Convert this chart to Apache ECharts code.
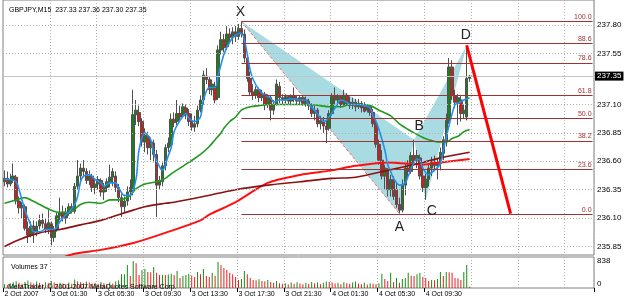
<!DOCTYPE html>
<html><head><meta charset="utf-8">
<script src="https://cdn.jsdelivr.net/npm/echarts@6/dist/echarts.min.js"></script>
<style>html,body{margin:0;padding:0;background:#fff}#c{width:625px;height:305px}</style>
</head><body><div id="c"></div>
<script>
const chartTitle = 'GBPJPY,M15  237.33 237.36 237.30 237.35';
const volumeTitle = 'Volumes 37';
const copyright = 'MetaTrader, \u00a9 2001-2007 MetaQuotes Software Corp.';
const timeLabels = ['2 Oct 2007','3 Oct 01:30','3 Oct 05:30','3 Oct 09:30','3 Oct 13:30','3 Oct 17:30','3 Oct 21:30','4 Oct 01:30','4 Oct 05:30','4 Oct 09:30'];
const barsPerLabel = 16;
const slotCount = 202;
const priceTicks = [237.80,237.55,237.10,236.85,236.60,236.35,236.10,235.85];
const lastPrice = 237.35;
const volumeTicks = [838, 0];

// [open, close, low, high]
const candles = [
[236.42,236.45,236.38,236.52],[236.45,236.40,236.37,236.51],[236.40,236.44,236.38,236.49],[236.44,236.47,236.41,236.58],
[236.46,236.25,236.22,236.48],[236.25,236.19,236.14,236.29],[236.19,236.21,236.10,236.24],[236.20,236.01,235.99,236.22],
[236.01,235.95,235.88,236.07],[235.95,236.03,235.93,236.07],[236.03,235.97,235.88,236.08],[235.98,236.03,235.94,236.07],
[236.03,236.08,236.00,236.13],[236.08,236.05,236.01,236.14],[236.05,236.00,235.97,236.10],[236.00,236.06,235.96,236.17],
[236.05,235.93,235.86,236.07],[235.93,236.00,235.89,236.03],[236.00,236.12,235.98,236.15],[236.12,236.15,236.08,236.28],
[236.15,236.10,236.07,236.21],[236.10,236.14,236.05,236.19],[236.14,236.20,236.12,236.23],[236.20,236.17,236.14,236.23],
[236.16,236.38,236.14,236.41],[236.38,236.47,236.35,236.61],[236.47,236.54,236.43,236.58],[236.54,236.51,236.46,236.61],
[236.51,236.43,236.40,236.54],[236.43,236.47,236.39,236.52],[236.47,236.37,236.33,236.49],[236.37,236.40,236.31,236.44],
[236.40,236.44,236.35,236.47],[236.43,236.33,236.29,236.45],[236.33,236.37,236.26,236.41],[236.37,236.42,236.33,236.45],
[236.42,236.46,236.37,236.57],[236.46,236.51,236.38,236.54],[236.47,236.37,236.33,236.51],[236.37,236.28,236.24,236.40],
[236.28,236.20,236.11,236.31],[236.20,236.25,236.15,236.29],[236.25,236.33,236.21,236.38],[236.33,236.37,236.26,236.44],
[236.35,237.01,236.30,237.23],[237.01,237.05,236.92,237.14],[237.03,236.95,236.91,237.09],[236.95,236.77,236.73,236.98],
[236.77,236.83,236.68,236.89],[236.82,236.72,236.66,236.86],[236.72,236.77,236.61,236.81],[236.76,236.66,236.59,236.79],
[236.66,236.39,236.11,236.70],[236.39,236.43,236.35,236.47],[236.42,236.56,236.38,236.59],[236.56,236.72,236.52,236.75],
[236.72,236.76,236.68,236.81],[236.75,236.97,236.73,237.02],[236.97,236.94,236.90,237.03],[236.95,237.02,236.92,237.14],
[237.02,236.99,236.96,237.09],[237.00,237.08,236.98,237.11],[237.07,237.02,236.97,237.10],[237.02,236.95,236.91,237.06],
[236.95,236.90,236.87,237.02],[236.90,236.93,236.86,237.00],[236.93,237.05,236.90,237.09],[237.05,237.14,237.03,237.18],
[237.14,237.36,237.10,237.40],[237.35,237.32,237.28,237.42],[237.32,237.23,237.19,237.35],[237.23,237.28,237.18,237.32],
[237.26,237.14,237.11,237.30],[237.16,237.58,237.14,237.62],[237.58,237.67,237.54,237.74],[237.67,237.60,237.56,237.72],
[237.61,237.72,237.58,237.79],[237.72,237.69,237.65,237.77],[237.69,237.74,237.63,237.78],[237.74,237.70,237.65,237.79],
[237.70,237.77,237.67,237.81],[237.77,237.72,237.69,237.83],[237.72,237.51,237.47,237.76],[237.51,237.33,237.30,237.54],
[237.33,237.21,237.18,237.39],[237.21,237.18,237.14,237.28],[237.18,237.23,237.15,237.26],[237.23,237.16,237.12,237.25],
[237.16,237.19,237.13,237.23],[237.19,237.10,237.05,237.21],[237.10,237.16,237.07,237.19],[237.16,237.05,236.96,237.18],
[237.05,237.10,237.01,237.14],[237.10,237.28,237.09,237.32],[237.26,237.16,237.11,237.30],[237.16,237.14,237.10,237.19],
[237.14,237.17,237.11,237.19],[237.17,237.13,237.10,237.18],[237.13,237.17,237.10,237.19],[237.18,237.15,237.12,237.25],
[237.15,237.13,237.10,237.18],[237.13,237.16,237.10,237.18],[237.16,237.11,237.09,237.18],[237.11,237.14,237.08,237.17],
[237.13,237.09,237.05,237.15],[237.09,237.02,236.99,237.11],[237.02,237.05,236.96,237.09],[237.05,236.93,236.90,237.07],
[236.93,236.96,236.88,237.00],[236.95,236.91,236.85,236.99],[236.91,236.88,236.76,236.96],[236.89,237.02,236.87,237.05],
[237.02,237.17,237.00,237.20],[237.17,237.14,237.10,237.25],[237.14,237.17,237.09,237.19],[237.17,237.10,237.07,237.18],
[237.10,237.18,237.09,237.23],[237.18,237.12,237.09,237.20],[237.12,237.09,237.06,237.17],[237.09,237.12,237.06,237.16],
[237.12,237.08,237.04,237.15],[237.08,237.11,237.06,237.15],[237.11,237.07,237.03,237.13],[237.09,237.04,237.03,237.12],
[237.05,237.08,237.03,237.10],[237.08,237.03,237.00,237.10],[237.03,236.93,236.90,237.06],[236.93,236.75,236.72,236.96],
[236.75,236.61,236.57,236.79],[236.61,236.47,236.44,236.70],[236.47,236.54,236.35,236.57],[236.52,236.35,236.29,236.54],
[236.35,236.44,236.29,236.48],[236.44,236.29,236.26,236.47],[236.35,236.22,236.19,236.41],[236.22,236.17,236.14,236.28],
[236.17,236.39,236.15,236.44],[236.39,236.54,236.30,236.58],[236.54,236.51,236.45,236.61],[236.51,236.65,236.49,236.68],
[236.65,236.61,236.56,236.79],[236.61,236.65,236.54,236.70],[236.63,236.47,236.44,236.66],[236.47,236.37,236.33,236.57],
[236.37,236.44,236.26,236.49],[236.44,236.54,236.38,236.58],[236.54,236.59,236.47,236.64],[236.59,236.56,236.52,236.65],
[236.56,236.59,236.44,236.63],[236.58,236.68,236.52,236.72],[236.67,236.79,236.61,236.82],[236.77,236.96,236.73,237.02],
[236.96,237.43,236.93,237.51],[237.43,237.18,237.14,237.49],[237.18,237.12,237.07,237.23],[237.12,237.16,236.92,237.19],
[237.14,237.02,236.95,237.18],[237.02,237.05,236.98,237.10],[236.99,237.33,236.96,237.62],[237.33,237.35,237.30,237.36]
];

const volumes = [
120,95,150,180,210,160,130,190,230,170,140,200,160,120,180,150,220,170,130,160,
140,110,170,130,260,210,180,150,200,170,140,160,130,190,150,120,170,140,200,230,
430,430,710,370,838,770,400,560,590,500,490,650,470,400,410,400,420,440,400,530,
310,370,400,440,390,340,500,430,590,370,340,470,380,810,710,620,560,470,430,340,
250,280,530,430,310,250,240,270,220,210,250,190,160,220,150,130,
150,110,170,130,180,140,120,160,130,190,150,170,120,160,200,
190,170,140,160,120,180,150,130,170,200,140,120,160,110,150,130,
120,150,440,280,220,470,190,310,160,280,310,470,380,370,430,470,340,310,220,250,
240,280,500,370,500,490,470,310,300,250,500,710,37
];

// moving averages read at sampled bars: [bar, price]
const maFast = [[0,236.44],[2,236.44],[4,236.42],[5,236.35],[7,236.17],[9,236.04],[10,235.98],[12,235.98],[14,236.00],[17,236.00],[19,236.07],[21,236.13],[22,236.15],[24,236.22],[25,236.29],[26,236.42],[27,236.47],[29,236.48],[31,236.44],[33,236.41],[34,236.38],[36,236.41],[38,236.41],[39,236.37],[41,236.30],[43,236.30],[45,236.45],[46,236.70],[48,236.85],[50,236.79],[51,236.67],[53,236.55],[54,236.52],[56,236.65],[57,236.72],[58,236.86],[60,236.96],[62,237.02],[63,236.98],[65,236.95],[67,236.99],[68,237.14],[70,237.25],[72,237.25],[73,237.35],[75,237.54],[77,237.65],[79,237.71],[81,237.73],[82,237.67],[83,237.54],[84,237.40],[85,237.32],[87,237.23],[89,237.18],[91,237.16],[92,237.12],[94,237.14],[96,237.14],[98,237.15],[101,237.14],[103,237.14],[104,237.10],[106,237.05],[108,236.98],[109,236.95],[110,236.96],[111,236.99],[113,237.07],[115,237.14],[117,237.12],[118,237.10],[121,237.10],[123,237.09],[125,237.07],[126,237.00],[127,236.95],[128,236.88],[130,236.70],[131,236.57],[132,236.51],[133,236.45],[135,236.39],[137,236.41],[138,236.47],[140,236.59],[141,236.62],[142,236.61],[143,236.54],[145,236.48],[146,236.50],[147,236.52],[149,236.58],[150,236.70],[152,236.92],[154,237.10],[155,237.11],[157,237.14],[159,237.16]];
const maMid = [[0,236.23],[4,236.26],[7,236.28],[9,236.26],[12,236.22],[16,236.17],[19,236.15],[22,236.15],[26,236.22],[29,236.24],[33,236.23],[36,236.26],[39,236.26],[41,236.27],[43,236.30],[45,236.36],[48,236.40],[52,236.42],[55,236.45],[57,236.49],[60,236.54],[63,236.59],[67,236.66],[70,236.73],[72,236.79],[74,236.85],[75,236.89],[77,236.95],[79,236.99],[81,237.05],[84,237.08],[87,237.09],[91,237.10],[94,237.10],[98,237.10],[101,237.10],[104,237.10],[108,237.09],[111,237.08],[115,237.08],[118,237.10],[121,237.10],[125,237.09],[128,237.05],[132,237.00],[135,236.93],[138,236.88],[140,236.85],[143,236.81],[145,236.79],[148,236.77],[151,236.77],[153,236.80],[155,236.82],[157,236.86],[159,236.88]];
const maSlow = [[0,235.85],[5,235.91],[12,235.97],[19,236.00],[26,236.04],[33,236.08],[39,236.13],[44,236.17],[48,236.20],[55,236.23],[58,236.24],[68,236.29],[79,236.35],[90,236.39],[101,236.42],[112,236.45],[120,236.46],[131,236.52],[143,236.59],[149,236.63],[159,236.68]];
const maLong = [[12,235.66],[23,235.78],[33,235.82],[44,235.88],[55,235.97],[67,236.08],[70,236.13],[79,236.24],[90,236.41],[101,236.48],[112,236.52],[120,236.56],[131,236.59],[143,236.57],[149,236.59],[159,236.62]];

const fibLabels = ['100.0','88.6','78.6','61.8','50.0','38.2','23.6','0.0'];
const fibPrices = [237.83,237.636,237.466,237.181,236.98,236.779,236.531,236.13];
const fibStartBar = 81;

const patternNames = ['X','A','B','C','D'];
const patternBars = [81,135,140,144,158];
const patternPrices = [237.83,236.14,236.79,236.26,237.62];
const projectionBars = [158,173];
const projectionPrices = [237.62,236.14];

const FONT = 'Liberation Sans, Arial, sans-serif';
const categories = Array.from({length: slotCount}, (_, i) => String(i));
const isLabelIdx = (i) => i % barsPerLabel === 0 && i / barsPerLabel < timeLabels.length;
const isGridIdx = (i) => i % barsPerLabel === 0 && i > 0;

const chart = echarts.init(document.getElementById('c'), null, {renderer: 'canvas'});
const gridLineStyle = {color: '#b0b0b0', type: [1, 2], width: 1};

const labelOffsets = {X: [-1, -9], A: [0, 14], B: [5, -14], C: [6, 11], D: [-1, -10]};

chart.setOption({
  animation: false,
  backgroundColor: '#ffffff',
  title: [
    {text: chartTitle, left: 4, top: 2, textStyle: {fontSize: 7, fontWeight: 'normal', color: '#000', fontFamily: FONT}},
    {text: volumeTitle, left: 6, top: 259, textStyle: {fontSize: 7, fontWeight: 'normal', color: '#000', fontFamily: FONT}},
    {text: copyright, left: 3, top: 279, textStyle: {fontSize: 7, fontWeight: 'normal', color: '#000', fontFamily: FONT}}
  ],
  grid: [
    {left: 3, top: 0, width: 591, height: 255, show: true, borderColor: '#808080', borderWidth: 1, backgroundColor: 'transparent'},
    {left: 3, top: 257, width: 591, height: 31, show: true, borderColor: '#808080', borderWidth: 1, backgroundColor: 'transparent'}
  ],
  xAxis: [
    {type: 'category', gridIndex: 0, data: categories, boundaryGap: true,
     axisLine: {show: false}, axisTick: {show: false}, axisLabel: {show: false},
     splitLine: {show: true, interval: (i) => isGridIdx(i), lineStyle: gridLineStyle}},
    {type: 'category', gridIndex: 1, data: categories, boundaryGap: true,
     axisLine: {show: false},
     axisTick: {show: true, interval: (i) => isLabelIdx(i), length: 4, lineStyle: {color: '#000'}},
     axisLabel: {show: true, interval: (i) => isLabelIdx(i), align: 'left', margin: 3, fontSize: 7, color: '#000', fontFamily: FONT,
       formatter: (v, i) => timeLabels[Math.round(i / barsPerLabel)] || ''},
     splitLine: {show: true, interval: (i) => isGridIdx(i), lineStyle: gridLineStyle}}
  ],
  yAxis: [
    {type: 'value', gridIndex: 0, min: 235.775, max: 238.02, position: 'right',
     axisLine: {show: false}, axisTick: {show: false}, axisLabel: {show: false}, splitLine: {show: false}},
    {type: 'value', gridIndex: 1, min: 0, max: 962, position: 'right',
     axisLine: {show: false}, axisTick: {show: false}, axisLabel: {show: false}, splitLine: {show: false}}
  ],
  series: [
    {type: 'line', name: 'grid', data: [], xAxisIndex: 0, yAxisIndex: 0, z: 0, silent: true,
     markLine: {silent: true, symbol: ['none','none'], animation: false,
       lineStyle: gridLineStyle,
       label: {show: true, position: 'end', distance: 3, fontSize: 8, color: '#000', fontFamily: FONT,
         formatter: (p) => Number(p.value).toFixed(2)},
       data: priceTicks.map(v => ({yAxis: v})).concat([
         {yAxis: lastPrice, lineStyle: {color: '#c4c4c4', type: 'solid', width: 1},
          label: {backgroundColor: '#000', color: '#fff', padding: [1, 2, 0, 2], distance: 1}}
       ])}},
    {type: 'custom', name: 'pattern', xAxisIndex: 0, yAxisIndex: 0, z: 1, silent: true,
     data: [[patternBars[0], patternPrices[0]]],
     renderItem: (params, api) => {
       const pts = patternBars.map((b, k) => api.coord([b, patternPrices[k]]));
       const [X, A, B, C, D] = pts;
       const fill = '#a9dbe2';
       const children = [
         {type: 'polygon', shape: {points: [X, A, B]}, style: {fill: fill}},
         {type: 'polygon', shape: {points: [B, C, D]}, style: {fill: fill}},
         {type: 'line', shape: {x1: X[0], y1: X[1], x2: A[0], y2: A[1]}, style: {stroke: '#f07070', lineWidth: 1, lineDash: [3, 2]}}
       ];
       return {type: 'group', children: children};
     }},
    {type: 'line', name: 'fib', data: [], xAxisIndex: 0, yAxisIndex: 0, z: 1, silent: true,
     markLine: {silent: true, symbol: ['none','none'], animation: false,
       lineStyle: {color: '#a03232', type: 'solid', width: 1},
       label: {show: true, position: 'insideEndTop', distance: 1, fontSize: 7, color: '#a03232', fontFamily: FONT,
         formatter: (p) => p.name},
       data: fibPrices.map((p, k) => [{name: fibLabels[k], coord: [String(fibStartBar), p]}, {coord: [String(slotCount - 1), p]}])}},
    {type: 'candlestick', name: 'price', data: candles, xAxisIndex: 0, yAxisIndex: 0, z: 3, barWidth: 3,
     itemStyle: {color: '#1c7f1c', color0: '#cc2020', borderColor: '#505050', borderColor0: '#505050', borderWidth: 1}},
    {type: 'line', name: 'maLong', data: maLong, xAxisIndex: 0, yAxisIndex: 0, z: 4, symbol: 'none', smooth: 0.3,
     lineStyle: {color: '#ff1010', width: 2}},
    {type: 'line', name: 'maSlow', data: maSlow, xAxisIndex: 0, yAxisIndex: 0, z: 4, symbol: 'none', smooth: 0.3,
     lineStyle: {color: '#8b1010', width: 1.6}},
    {type: 'line', name: 'maMid', data: maMid, xAxisIndex: 0, yAxisIndex: 0, z: 4, symbol: 'none', smooth: 0.3,
     lineStyle: {color: '#1f9a1f', width: 1.6}},
    {type: 'line', name: 'maFast', data: maFast, xAxisIndex: 0, yAxisIndex: 0, z: 4, symbol: 'none', smooth: 0.3,
     lineStyle: {color: '#2090f0', width: 1.6}},
    {type: 'line', name: 'projection', data: projectionBars.map((b, k) => [b, projectionPrices[k]]), xAxisIndex: 0, yAxisIndex: 0, z: 6,
     symbol: 'none', lineStyle: {color: '#ff0000', width: 3}},
    {type: 'custom', name: 'patternLabels', xAxisIndex: 0, yAxisIndex: 0, z: 7, silent: true,
     data: patternBars.map((b, k) => [b, patternPrices[k], k]),
     renderItem: (params, api) => {
       const k = api.value(2);
       const p = api.coord([api.value(0), api.value(1)]);
       const name = patternNames[k];
       const off = labelOffsets[name];
       return {type: 'text', x: p[0] + off[0], y: p[1] + off[1],
         style: {text: name, fill: '#222', font: '14px ' + FONT, align: 'center', verticalAlign: 'middle'}};
     }},
    {type: 'bar', name: 'volume', data: volumes, xAxisIndex: 1, yAxisIndex: 1, barWidth: 1, z: 2,
     itemStyle: {color: (p) => (p.dataIndex === 0 || volumes[p.dataIndex] >= volumes[p.dataIndex - 1]) ? '#138f13' : '#ee1c1c'}},
    {type: 'line', name: 'volAxis', data: [], xAxisIndex: 1, yAxisIndex: 1, z: 0, silent: true,
     markLine: {silent: true, symbol: ['none','none'], animation: false,
       lineStyle: {color: 'rgba(0,0,0,0)', width: 1},
       label: {show: true, position: 'end', distance: 3, fontSize: 8, color: '#000', fontFamily: FONT,
         formatter: (p) => String(p.value)},
       data: volumeTicks.map(v => v === 0 ? {yAxis: v, label: {offset: [0, -4]}} : {yAxis: v})}}
  ]
});
</script></body></html>
